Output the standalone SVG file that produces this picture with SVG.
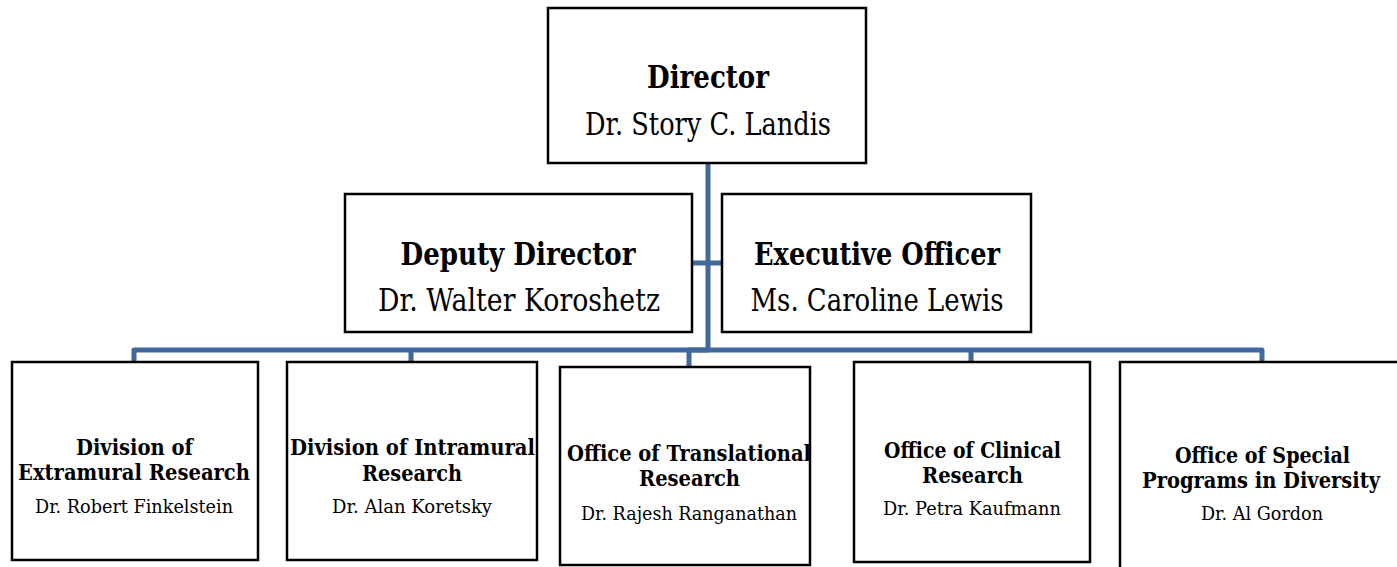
<svg xmlns="http://www.w3.org/2000/svg" width="1397" height="567" viewBox="0 0 1397 567">
<style>
.box{fill:#fff;stroke:#000;stroke-width:2.5}
.conn{fill:none;stroke:#41699B;stroke-width:5;stroke-linejoin:round}
text{font-family:"DejaVu Serif","Liberation Serif",serif;text-anchor:middle;fill:#000}
.t1{font-size:31px;font-weight:bold}
.n1{font-size:31px}
.t3{font-size:22px;font-weight:bold}
.n3{font-size:19px}
</style>
<rect width="1397" height="567" fill="#fff"/>
<g id="connectors">
<path class="conn" d="M708 163 V350 H689 V367"/>
<path class="conn" d="M692 263 H722"/>
<path class="conn" d="M134 362 V350 H1262 V362"/>
<path class="conn" d="M411 350 V362 M971 350 V362"/>
</g>
<g id="director">
<rect class="box" x="548" y="8" width="318" height="155"/>
<text class="t1" x="708" y="88" textLength="122" lengthAdjust="spacingAndGlyphs">Director</text>
<text class="n1" x="708" y="135" textLength="246" lengthAdjust="spacingAndGlyphs">Dr. Story C. Landis</text>
</g>
<g id="deputy">
<rect class="box" x="345" y="194" width="347" height="138"/>
<text class="t1" x="518" y="265" textLength="235" lengthAdjust="spacingAndGlyphs">Deputy Director</text>
<text class="n1" x="519" y="311" textLength="282" lengthAdjust="spacingAndGlyphs">Dr. Walter Koroshetz</text>
</g>
<g id="executive">
<rect class="box" x="722" y="194" width="309" height="138"/>
<text class="t1" x="877" y="265" textLength="246" lengthAdjust="spacingAndGlyphs">Executive Officer</text>
<text class="n1" x="877" y="311" textLength="253" lengthAdjust="spacingAndGlyphs">Ms. Caroline Lewis</text>
</g>
<g id="extramural">
<rect class="box" x="12" y="362" width="246" height="198"/>
<text class="t3" x="134.5" y="455" textLength="117" lengthAdjust="spacingAndGlyphs">Division of</text>
<text class="t3" x="134" y="480" textLength="232" lengthAdjust="spacingAndGlyphs">Extramural Research</text>
<text class="n3" x="134" y="513" textLength="198" lengthAdjust="spacingAndGlyphs">Dr. Robert Finkelstein</text>
</g>
<g id="intramural">
<rect class="box" x="287" y="362" width="250" height="198"/>
<text class="t3" x="412.5" y="455" textLength="245" lengthAdjust="spacingAndGlyphs">Division of Intramural</text>
<text class="t3" x="412" y="481" textLength="100" lengthAdjust="spacingAndGlyphs">Research</text>
<text class="n3" x="412" y="513" textLength="160" lengthAdjust="spacingAndGlyphs">Dr. Alan Koretsky</text>
</g>
<g id="translational">
<rect class="box" x="560" y="367" width="250" height="198"/>
<text class="t3" x="689" y="461" textLength="244" lengthAdjust="spacingAndGlyphs">Office of Translational</text>
<text class="t3" x="689.5" y="486" textLength="101" lengthAdjust="spacingAndGlyphs">Research</text>
<text class="n3" x="689" y="520" textLength="216" lengthAdjust="spacingAndGlyphs">Dr. Rajesh Ranganathan</text>
</g>
<g id="clinical">
<rect class="box" x="854" y="362" width="236" height="200"/>
<text class="t3" x="972.5" y="458" textLength="177" lengthAdjust="spacingAndGlyphs">Office of Clinical</text>
<text class="t3" x="972.5" y="483" textLength="101" lengthAdjust="spacingAndGlyphs">Research</text>
<text class="n3" x="972" y="515" textLength="178" lengthAdjust="spacingAndGlyphs">Dr. Petra Kaufmann</text>
</g>
<g id="diversity">
<path class="box" d="M1397 362 H1120 V567"/>
<text class="t3" x="1262.5" y="463" textLength="175" lengthAdjust="spacingAndGlyphs">Office of Special</text>
<text class="t3" transform="translate(1261 488) scale(0.8 1)" x="0" y="0" textLength="297.5" lengthAdjust="spacingAndGlyphs">Programs in Diversity</text>
<text class="n3" x="1262" y="520" textLength="122" lengthAdjust="spacingAndGlyphs">Dr. Al Gordon</text>
</g>
</svg>
